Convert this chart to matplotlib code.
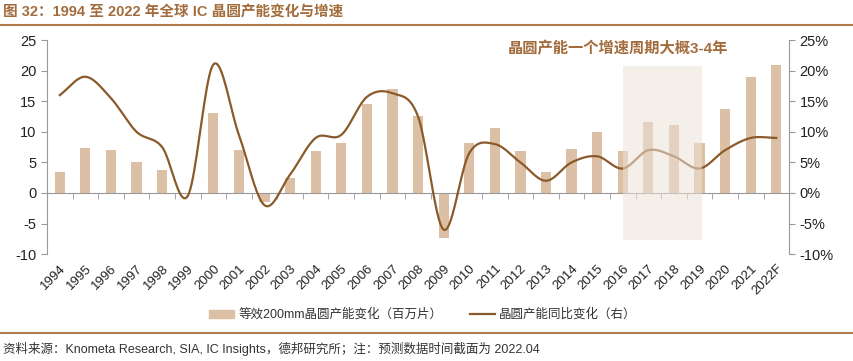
import numpy as np
import matplotlib.pyplot as plt
from matplotlib.patches import Rectangle

plt.rcParams['font.family'] = ['Liberation Sans', 'Noto Sans CJK SC']
plt.rcParams['axes.unicode_minus'] = False

# data
years = ["1994", "1995", "1996", "1997", "1998", "1999", "2000", "2001", "2002", "2003",
         "2004", "2005", "2006", "2007", "2008", "2009", "2010", "2011", "2012", "2013",
         "2014", "2015", "2016", "2017", "2018", "2019", "2020", "2021", "2022F"]
capacity_chg = [3.5, 7.3, 7.0, 5.0, 3.8, 0.0, 13.0, 7.0, -1.5, 2.4,
                6.9, 8.2, 14.6, 17.0, 12.6, -7.4, 8.1, 10.7, 6.9, 3.4,
                7.2, 10.0, 6.9, 11.6, 11.1, 8.2, 13.7, 19.0, 21.0]
yoy_pct = [16.0, 19.0, 15.5, 10.0, 7.5, -0.5, 21.0, 9.5, -2.0, 3.0,
           9.0, 9.5, 15.7, 16.3, 12.5, -6.0, 6.5, 8.0, 5.0, 2.0,
           5.0, 6.0, 4.0, 7.0, 6.0, 4.0, 7.0, 9.0, 9.0]
left_ticks = [-10, -5, 0, 5, 10, 15, 20, 25]
right_ticks = [-10, -5, 0, 5, 10, 15, 20, 25]

bar_color = '#dcc0a5'
line_color = '#8b5a2b'
brown = '#a36c3c'


def smooth(xs, ys, n=20):
    # catmull-rom curve through the points (like excel smoothed line)
    xs = np.asarray(xs, float)
    ys = np.asarray(ys, float)
    px = np.concatenate([[2 * xs[0] - xs[1]], xs, [2 * xs[-1] - xs[-2]]])
    py = np.concatenate([[2 * ys[0] - ys[1]], ys, [2 * ys[-1] - ys[-2]]])
    ox, oy = [], []
    t = np.linspace(0, 1, n, endpoint=False)
    for i in range(1, len(px) - 2):
        for p, out in ((px, ox), (py, oy)):
            p0, p1, p2, p3 = p[i - 1], p[i], p[i + 1], p[i + 2]
            out.extend(0.5 * (2 * p1 + (-p0 + p2) * t + (2 * p0 - 5 * p1 + 4 * p2 - p3) * t ** 2
                              + (-p0 + 3 * p1 - 3 * p2 + p3) * t ** 3))
    ox.append(xs[-1])
    oy.append(ys[-1])
    return np.array(ox), np.array(oy)


fig = plt.figure(figsize=(8.54, 3.61), dpi=100)
ax = fig.add_axes([0.055, 0.296, 0.869, 0.593])
ax2 = ax.twinx()

x = np.arange(len(years))
ax.bar(x, capacity_chg, width=0.4, color=bar_color, zorder=2)
sx, sy = smooth(x, yoy_pct)
ax2.plot(sx, sy, color=line_color, lw=1.6, zorder=2)

ax.set_xlim(-0.5, len(years) - 0.5)
ax.set_ylim(-10, 25)
ax2.set_ylim(-10, 25)
ax.set_yticks(left_ticks)
ax.set_yticklabels([str(v) for v in left_ticks])
ax2.set_yticks(right_ticks)
ax2.set_yticklabels([f"{v}%" for v in right_ticks])

gray = '#999999'
for a in (ax, ax2):
    a.spines['top'].set_visible(False)
    a.spines['bottom'].set_visible(False)
    a.spines['left'].set_color(gray)
    a.spines['right'].set_color(gray)
    a.tick_params(axis='y', colors=gray, labelcolor='#222222', labelsize=10.5, length=4)
ax2.spines['left'].set_visible(False)
ax.spines['right'].set_visible(False)

# zero axis with ticks between categories
ax.spines['bottom'].set_visible(True)
ax.spines['bottom'].set_position(('data', 0))
ax.spines['bottom'].set_color(gray)
ax.set_xticks(x + 0.5, minor=True)
ax.set_xticks([])
ax.tick_params(axis='x', which='minor', length=4, color=gray)

sec = ax.secondary_xaxis(0)
sec.set_xticks(x)
sec.set_xticklabels(years, rotation=45, ha='right', va='top', rotation_mode='anchor')
sec.tick_params(length=0, labelsize=9.5, pad=6, labelcolor='#222222')
sec.spines['bottom'].set_visible(False)

# highlight box for the 2016-2019 cycle
rect = Rectangle((22, -7.7), 3.1, 28.45, facecolor='#ece2d8', alpha=0.55,
                 edgecolor='none', zorder=5)
ax2.add_patch(rect)
ax2.text(21.8, 23.7, "晶圆产能一个增速周期大概3-4年", ha='center', va='center',
         fontsize=11, fontweight='bold', color=brown)

# legend
h1 = Rectangle((0, 0), 1, 1, color=bar_color)
h2, = ax.plot([], [], color=line_color, lw=1.6)
fig.legend([h1, h2], ["等效200mm晶圆产能变化（百万片）", "晶圆产能同比变化（右）"],
           loc='center', bbox_to_anchor=(0.495, 0.128), ncol=2, frameon=False,
           fontsize=9, handlelength=2.0, handleheight=0.6, handletextpad=0.3,
           columnspacing=2.2, labelcolor='#333333')

# title, rules, source
fig.text(0.003, 0.965, "图 32：1994 至 2022 年全球 IC 晶圆产能变化与增速",
         ha='left', va='center', fontsize=10.5, fontweight='bold', color=brown)
fig.add_artist(plt.Line2D([0, 1], [0.931, 0.931], color='#b07c4e', lw=1.5))
fig.add_artist(plt.Line2D([0, 1], [0.078, 0.078], color='#b07c4e', lw=1.5))
fig.text(0.003, 0.033, "资料来源：Knometa Research, SIA, IC Insights，德邦研究所；注：预测数据时间截面为 2022.04",
         ha='left', va='center', fontsize=9, color='#333333')

fig.savefig("out.png", dpi=100)
